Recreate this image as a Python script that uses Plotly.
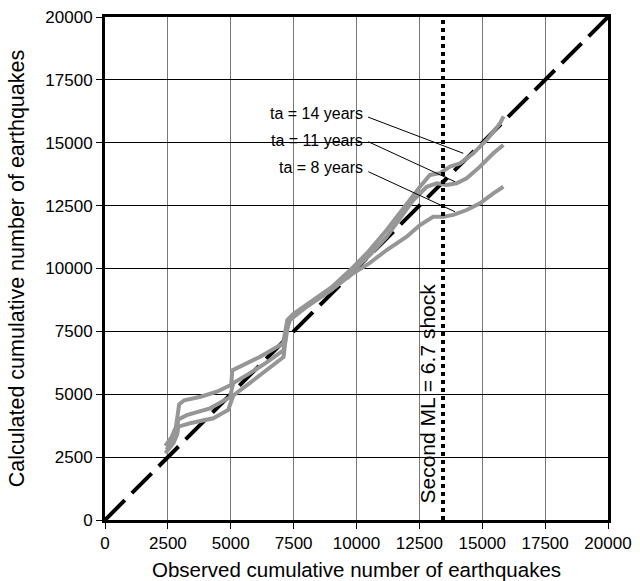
import plotly.graph_objects as go

# ---- data ----
obs_14 = [2400, 2650, 2820, 2880, 2950, 3150, 3800, 4450, 5020, 5060, 5500, 6150, 7080, 7150, 7250, 7500, 8300, 9000, 9870, 10500, 11200, 11995, 12525, 12920, 13320, 13720, 14115, 14645, 15175, 15705, 15850]
calc_14 = [2950, 3300, 3700, 4300, 4600, 4760, 4900, 5100, 5380, 5950, 6150, 6480, 7020, 7400, 7950, 8200, 8750, 9250, 10050, 10700, 11530, 12590, 13250, 13720, 13790, 14050, 14180, 14580, 15110, 15770, 16050]

obs_11 = [2450, 2700, 2850, 2920, 3250, 4175, 4970, 5040, 5100, 5700, 6400, 7100, 7180, 7355, 8020, 9000, 9870, 10500, 11200, 12260, 12790, 13190, 13590, 13980, 14380, 14910, 15440, 15840]
calc_11 = [2800, 3200, 3600, 4000, 4170, 4440, 4880, 5150, 5450, 5800, 6250, 6750, 7450, 7950, 8480, 9150, 9950, 10500, 11265, 12720, 13250, 13390, 13320, 13390, 13590, 14050, 14580, 14910]

obs_8 = [2400, 2720, 2870, 2915, 3380, 4305, 4900, 5040, 5100, 5765, 6430, 7100, 7160, 7300, 7600, 8300, 9000, 9870, 10500, 11200, 11995, 12525, 13050, 13450, 13850, 14380, 14910, 15440, 15840]
calc_8 = [2650, 3050, 3400, 3710, 3845, 4045, 4375, 4750, 4950, 5450, 5960, 6480, 7000, 7900, 8250, 8700, 9150, 9810, 10200, 10735, 11265, 11730, 12060, 12060, 12130, 12325, 12590, 12990, 13250]

diag = [0, 20000]
shock_x = 13440
tick_vals = [0, 2500, 5000, 7500, 10000, 12500, 15000, 17500, 20000]
tick_text = ["0", "2500", "5000", "7500", "10000", "12500", "15000", "17500", "20000"]
labels = ["ta = 14 years", "ta = 11 years", "ta = 8 years"]
label_y = [16180, 15070, 14000]
pointer_start = [(10460, 16020), (10470, 15040), (10470, 13850)]
pointer_end = [(14246, 14580), (13916, 13451), (13916, 12258)]

FONT = "Liberation Sans, Arial, sans-serif"
GRAY = "rgb(150,150,150)"

fig = go.Figure()
fig.add_trace(go.Scatter(x=diag, y=diag, mode="lines",
                         line=dict(color="black", width=4, dash="28px,10px"),
                         hoverinfo="skip", showlegend=False))
for ox, cy in [(obs_8, calc_8), (obs_11, calc_11), (obs_14, calc_14)]:
    fig.add_trace(go.Scatter(x=ox, y=cy, mode="lines",
                             line=dict(color=GRAY, width=4),
                             showlegend=False))
fig.add_trace(go.Scatter(x=[shock_x, shock_x], y=[0, 20000], mode="lines",
                         line=dict(color="black", width=4, dash="dot"),
                         showlegend=False))

for (x0, y0), (x1, y1) in zip(pointer_start, pointer_end):
    fig.add_shape(type="line", x0=x0, y0=y0, x1=x1, y1=y1, xref="x", yref="y",
                  line=dict(color="black", width=1))
for t, ly in zip(labels, label_y):
    fig.add_annotation(x=10340, y=ly, text=t, showarrow=False, xanchor="right",
                       yanchor="middle", font=dict(family=FONT, size=16, color="black"))

fig.add_annotation(x=shock_x, y=0, xref="x", yref="y", text="Second ML = 6.7 shock",
                   textangle=-90, showarrow=False, xanchor="right", yanchor="bottom",
                   xshift=-3, yshift=14,
                   font=dict(family=FONT, size=21, color="black"))

axis_common = dict(range=[0, 20000], tickvals=tick_vals, ticktext=tick_text,
                   ticks="outside", ticklen=6, automargin=False,
                   tickcolor="black", tickwidth=1, showline=True, linecolor="black",
                   linewidth=3, mirror=True, zeroline=False, showgrid=True, gridwidth=1,
                   tickfont=dict(family=FONT, size=17, color="black"))
fig.update_xaxes(**axis_common, gridcolor="rgb(120,120,120)",
                 title=dict(text="Observed cumulative number of earthquakes",
                            font=dict(family=FONT, size=20.5, color="black")))
fig.update_yaxes(**axis_common, gridcolor="black",
                 title=dict(text="Calculated cumulative number of earthquakes",
                            font=dict(family=FONT, size=21.5, color="black")))

fig.update_layout(width=640, height=581, margin=dict(l=105, r=32, t=17, b=61),
                  plot_bgcolor="white", paper_bgcolor="white", showlegend=False)

fig.write_html("out.html")
